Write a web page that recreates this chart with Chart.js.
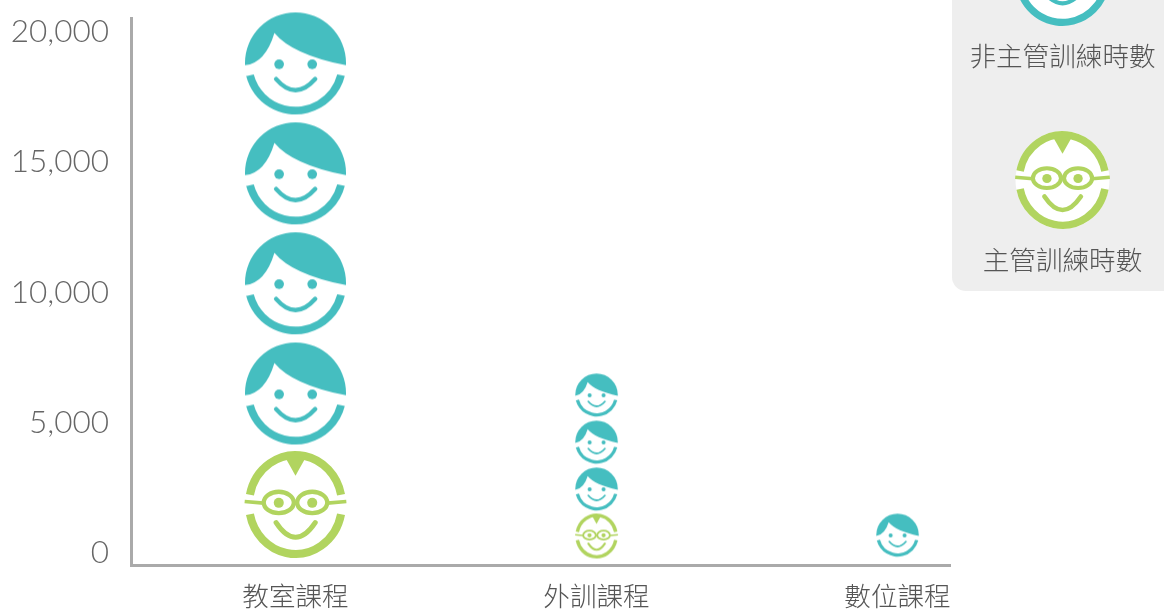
<!DOCTYPE html>
<html lang="zh-Hant">
<head>
<meta charset="utf-8">
<title>訓練時數</title>
<script src="https://cdn.jsdelivr.net/npm/chart.js@4"></script>
<style>
html,body{margin:0;padding:0;background:#fff;overflow:hidden}
canvas{display:block}
</style>
</head>
<body>
<canvas id="chart" width="1164" height="610"></canvas>
<script>
// Training hours by course type, one pictogram face per unit.
const categories = ['教室課程', '外訓課程', '數位課程'];
const tickValues = [0, 5000, 10000, 15000, 20000];
const seriesNames = ['非主管訓練時數', '主管訓練時數'];
const nonManagerFaces = [[18815, 14595, 10375, 6145], [6075, 4265, 2465], [695]];
const managerFaces = [[1865], [655], []];

const TEAL = '#45bec0';
const GREEN = '#b1d45f';
const FONT_CJK = '"Noto Sans CJK TC", "Noto Sans", sans-serif';
const FONT_NUM = 'Lato, "Noto Sans", sans-serif';
const faceWidths = [101, 42.5, 42.5];

// Both faces are authored on a 302-unit wide grid centred on the origin.
function paintTeal(c) {
  c.fillStyle = '#fff';
  c.beginPath(); c.arc(0, 0, 151, 0, Math.PI * 2); c.fill();
  c.fillStyle = TEAL;
  c.beginPath();
  c.moveTo(-151, 7);
  c.arc(0, 0, 151, Math.PI, Math.PI * 2);
  c.lineTo(151, 7);
  c.quadraticCurveTo(-10, -25, -63, -90);
  c.quadraticCurveTo(-90, 0, -151, 7);
  c.fill();
  c.beginPath();
  c.moveTo(-144, 39);
  c.arc(0, 2, 152, Math.PI - 0.245, 0.245, true);
  c.lineTo(122, 34);
  c.arc(0, 2, 129, 0.255, Math.PI - 0.255);
  c.closePath();
  c.fill();
  c.beginPath(); c.arc(-49, 4, 14.5, 0, Math.PI * 2); c.fill();
  c.beginPath(); c.arc(50, 4, 14.5, 0, Math.PI * 2); c.fill();
  c.strokeStyle = TEAL; c.lineCap = 'round'; c.lineWidth = 13;
  c.beginPath(); c.moveTo(-58, 48); c.quadraticCurveTo(0, 115, 59, 48); c.stroke();
}

function paintGreen(c) {
  c.fillStyle = '#fff';
  c.beginPath(); c.ellipse(0, 0, 151, 160, 0, 0, Math.PI * 2); c.fill();
  c.strokeStyle = GREEN; c.fillStyle = GREEN; c.lineWidth = 24;
  c.beginPath(); c.ellipse(0, 0, 139, 148, 0, Math.PI + 0.2, Math.PI * 2 - 0.2); c.stroke();
  c.beginPath(); c.ellipse(0, 0, 139, 148, 0, 0.2, Math.PI - 0.2); c.stroke();
  c.beginPath(); c.moveTo(-30, -140); c.lineTo(0, -86); c.lineTo(30, -140); c.closePath(); c.fill();
  c.lineWidth = 13;
  c.beginPath(); c.ellipse(-50, -6, 45, 32, 0, 0, Math.PI * 2); c.stroke();
  c.beginPath(); c.ellipse(50, -6, 45, 32, 0, 0, Math.PI * 2); c.stroke();
  c.lineWidth = 11;
  c.beginPath(); c.moveTo(-5, -5); c.lineTo(5, -5); c.stroke();
  c.beginPath(); c.moveTo(-152, -9); c.lineTo(-95, -4); c.stroke();
  c.beginPath(); c.moveTo(152, -9); c.lineTo(95, -4); c.stroke();
  c.beginPath(); c.arc(-50, -5, 15, 0, Math.PI * 2); c.fill();
  c.beginPath(); c.arc(50, -5, 15, 0, Math.PI * 2); c.fill();
  c.lineCap = 'round'; c.lineWidth = 15;
  c.beginPath(); c.moveTo(-58, 54); c.quadraticCurveTo(0, 142, 59, 54); c.stroke();
}

function faceImage(paint, width) {
  const side = Math.ceil(width * 1.3) | 1;
  const cv = document.createElement('canvas');
  cv.width = cv.height = side;
  const c = cv.getContext('2d');
  c.translate(side / 2, side / 2);
  c.scale(width / 302, width / 302);
  paint(c);
  return cv;
}

function faceSeries(label, faces, paint) {
  const points = faces.flatMap((vals, i) => vals.map(v => ({ x: i, y: v })));
  const sprites = faces.map((_, i) => faceImage(paint, faceWidths[i]));
  return {
    label,
    data: points,
    showLine: false,
    clip: false,
    pointRadius: ctx => faceWidths[ctx.raw ? ctx.raw.x : 0] / 2,
    pointStyle: ctx => sprites[ctx.raw ? ctx.raw.x : 0],
    backgroundColor: paint === paintTeal ? TEAL : GREEN
  };
}

// Legend panel: runs off the right and top edges of the canvas.
const legendPanel = {
  id: 'legendPanel',
  afterDraw(chart) {
    const c = chart.ctx;
    c.save();
    c.fillStyle = '#eeeeee';
    c.beginPath();
    c.roundRect(952, -30, 260, 321, 14);
    c.fill();
    const cx = 1062.5;
    c.save(); c.translate(cx, -22); c.scale(94 / 302, 94 / 302); paintTeal(c); c.restore();
    c.save(); c.translate(cx, 180); c.scale(94 / 302, 98 / 320); paintGreen(c); c.restore();
    c.fillStyle = '#555555';
    c.font = '300 26.6px ' + FONT_CJK;
    c.textAlign = 'center';
    c.textBaseline = 'middle';
    c.fillText(seriesNames[0], cx, 56);
    c.fillText(seriesNames[1], cx, 260);
    c.restore();
  }
};

new Chart(document.getElementById('chart'), {
  type: 'scatter',
  data: {
    datasets: [
      faceSeries(seriesNames[0], nonManagerFaces, paintTeal),
      faceSeries(seriesNames[1], managerFaces, paintGreen)
    ]
  },
  plugins: [legendPanel],
  options: {
    responsive: false,
    animation: false,
    layout: { autoPadding: false, padding: { left: 0, right: 214, top: 18, bottom: 0 } },
    plugins: { legend: { display: false }, tooltip: { enabled: false } },
    scales: {
      x: {
        type: 'linear',
        min: -0.5465,
        max: 2.1744,
        afterBuildTicks: s => { s.ticks = categories.map((_, i) => ({ value: i })); },
        afterFit: s => { s.height = 45; s.paddingLeft = 0; s.paddingRight = 0; },
        grid: { display: false, drawTicks: false },
        border: { color: '#aaaaaa', width: 3 },
        ticks: {
          autoSkip: false,
          maxRotation: 0,
          padding: 15,
          color: '#555555',
          font: { family: FONT_CJK, size: 26.6, weight: '300' },
          callback: v => categories[v]
        }
      },
      y: {
        type: 'linear',
        min: -460,
        max: 20540,
        afterBuildTicks: s => { s.ticks = tickValues.map(v => ({ value: v })); },
        afterFit: s => { s.width = 131; s.paddingTop = 0; s.paddingBottom = 0; },
        grid: { display: false, drawTicks: false },
        border: { color: '#aaaaaa', width: 3 },
        ticks: {
          padding: 22,
          color: '#666666',
          font: { family: FONT_NUM, size: 31.5, weight: '300' },
          callback: v => v.toLocaleString('en-US')
        }
      }
    }
  }
});
</script>
</body>
</html>
